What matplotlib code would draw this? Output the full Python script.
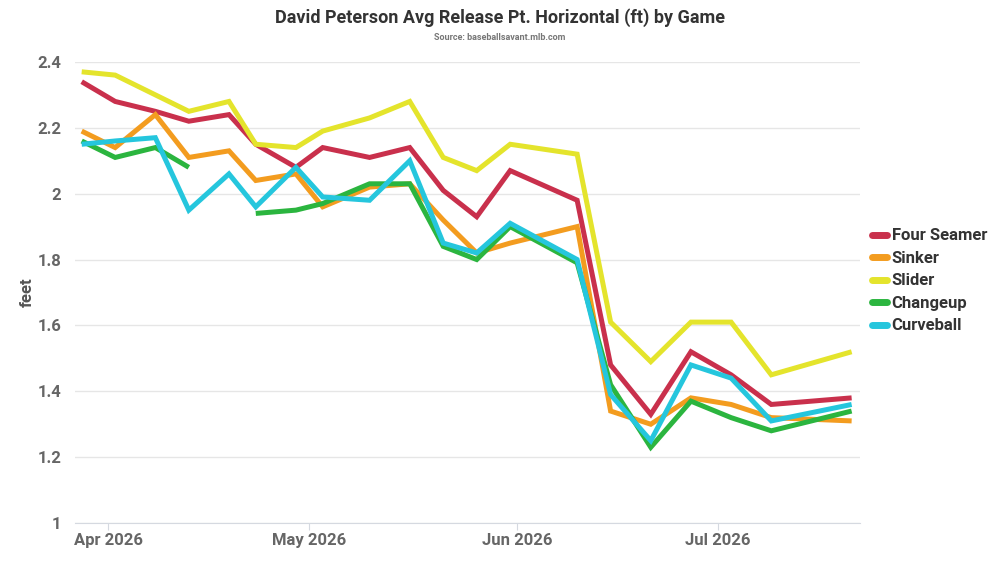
import matplotlib
matplotlib.use("Agg")
import matplotlib.pyplot as plt
import matplotlib.dates as mdates
import pandas as pd

plt.rcParams['font.family'] = ['Roboto', 'DejaVu Sans']

# game dates
dates = pd.to_datetime([
    "2026-03-28", "2026-04-02", "2026-04-08", "2026-04-13", "2026-04-19",
    "2026-04-23", "2026-04-29", "2026-05-03", "2026-05-10", "2026-05-16",
    "2026-05-21", "2026-05-26", "2026-05-31", "2026-06-10", "2026-06-15",
    "2026-06-21", "2026-06-27", "2026-07-03", "2026-07-09", "2026-07-21",
])

four_seamer = [2.34, 2.28, 2.25, 2.22, 2.24, 2.15, 2.08, 2.14, 2.11, 2.14,
               2.01, 1.93, 2.07, 1.98, 1.48, 1.33, 1.52, 1.45, 1.36, 1.38]
sinker = [2.19, 2.14, 2.24, 2.11, 2.13, 2.04, 2.06, 1.96, 2.02, 2.03,
          1.92, 1.82, 1.85, 1.90, 1.34, 1.30, 1.38, 1.36, 1.32, 1.31]
slider = [2.37, 2.36, 2.30, 2.25, 2.28, 2.15, 2.14, 2.19, 2.23, 2.28,
          2.11, 2.07, 2.15, 2.12, 1.61, 1.49, 1.61, 1.61, 1.45, 1.52]
changeup = [2.16, 2.11, 2.14, 2.08, None, 1.94, 1.95, 1.97, 2.03, 2.03,
            1.84, 1.80, 1.90, 1.79, 1.42, 1.23, 1.37, 1.32, 1.28, 1.34]
curveball = [2.15, 2.16, 2.17, 1.95, 2.06, 1.96, 2.08, 1.99, 1.98, 2.10,
             1.85, 1.82, 1.91, 1.80, 1.39, 1.25, 1.48, 1.44, 1.31, 1.36]

series = [
    ("Four Seamer", four_seamer, "#c9304c"),
    ("Sinker", sinker, "#f39c1f"),
    ("Slider", slider, "#e4e42c"),
    ("Changeup", changeup, "#2bb53f"),
    ("Curveball", curveball, "#25c6dd"),
]

fig = plt.figure(figsize=(10, 5.63), dpi=100)
ax = fig.add_axes([0.075, 0.071, 0.785, 0.819])

for name, vals, col in series:
    s = pd.Series(vals, index=dates, dtype=float)
    ax.plot(s.index, s.values, color=col, lw=3.6, label=name,
            solid_joinstyle='miter', solid_capstyle='butt')

ax.set_ylim(1, 2.4)
ax.set_yticks([1, 1.2, 1.4, 1.6, 1.8, 2, 2.2, 2.4])
ax.set_yticklabels(["1", "1.2", "1.4", "1.6", "1.8", "2", "2.2", "2.4"])
ax.set_xlim(pd.Timestamp("2026-03-27"), pd.Timestamp("2026-07-22 06:00"))
ax.xaxis.set_major_locator(mdates.MonthLocator())
ax.xaxis.set_major_formatter(mdates.DateFormatter("%b %Y"))

ax.grid(axis='y', color='#e6e6e6', lw=1)
ax.set_axisbelow(True)
for sp in ['top', 'right', 'left']:
    ax.spines[sp].set_visible(False)
ax.spines['bottom'].set_color('#d5d9e0')
ax.tick_params(axis='y', length=0, pad=10, labelsize=12, labelcolor='#666666')
ax.tick_params(axis='x', length=5, color='#d5d9e0', pad=2, labelsize=12,
               labelcolor='#666666')
for lab in ax.get_xticklabels() + ax.get_yticklabels():
    lab.set_fontweight('bold')

ax.set_ylabel("feet", fontsize=12, fontweight='bold', color='#555555', labelpad=2)

fig.text(0.5, 0.968, "David Peterson Avg Release Pt. Horizontal (ft) by Game",
         ha='center', va='center', fontsize=13, fontweight='bold', color='#333333')
fig.text(0.5, 0.933, "Source: baseballsavant.mlb.com", ha='center', va='center',
         fontsize=6.5, fontweight='bold', color='#777777')

leg = ax.legend(loc='center left', bbox_to_anchor=(1.0, 0.525), frameon=False,
                fontsize=12, handlelength=0.9, handletextpad=0.3,
                labelspacing=0.45, borderaxespad=0.3)
for t in leg.get_texts():
    t.set_fontweight('bold')
    t.set_color('#333333')
for h in leg.get_lines():
    h.set_linewidth(5)
    h.set_solid_capstyle('round')

fig.savefig("out.png", dpi=100)
